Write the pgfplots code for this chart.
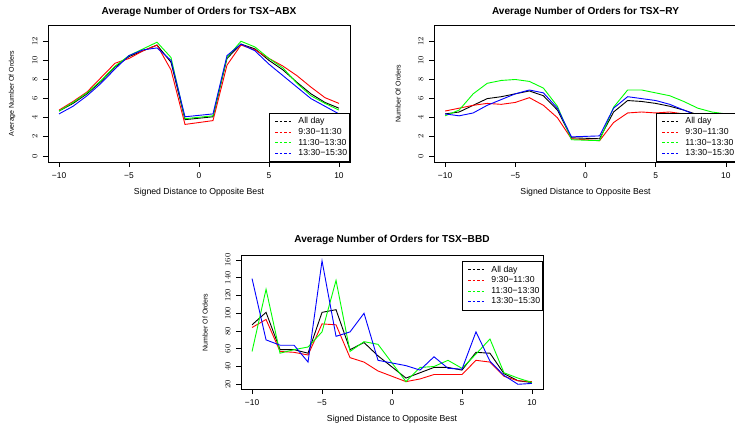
\documentclass[border=0pt]{standalone}
\usepackage{fontspec}
\setmainfont{Liberation Sans}
\usepackage{pgfplots}
\usepackage{pgfplotstable}
\pgfplotsset{compat=1.18}

% columns: all day, 9:30-11:30, 11:30-13:30, 13:30-15:30
\pgfplotstableread{
x all am mid pm
-10 4.7 4.8 4.7 4.4
-9 5.5 5.7 5.6 5.2
-8 6.5 6.7 6.6 6.3
-7 7.8 8.2 7.9 7.6
-6 9.3 9.7 9.4 9.1
-5 10.4 10.2 10.5 10.5
-4 11.0 11.0 11.2 11.1
-3 11.6 11.6 11.9 11.3
-2 9.8 9.0 10.3 10.0
-1 3.8 3.3 3.9 4.1
1 4.1 3.7 4.2 4.4
2 10.2 9.5 10.3 10.5
3 11.7 11.6 12.0 11.7
4 11.2 11.1 11.4 11.0
5 10.0 10.2 10.2 9.6
6 9.0 9.4 9.2 8.4
7 7.7 8.4 7.6 7.2
8 6.5 7.2 6.3 6.0
9 5.6 6.1 5.5 5.2
10 5.0 5.5 4.8 4.4
}\abx

\pgfplotstableread{
x all am mid pm
-10 4.4 4.7 4.2 4.4
-9 4.6 5.0 4.8 4.2
-8 5.3 5.3 6.5 4.5
-7 6.0 5.5 7.6 5.3
-6 6.2 5.4 7.9 5.9
-5 6.5 5.6 8.0 6.5
-4 6.8 6.1 7.8 6.9
-3 6.3 5.3 7.1 6.6
-2 4.8 4.0 5.2 5.0
-1 1.9 1.8 1.7 2.0
1 1.8 1.6 1.6 2.1
2 4.6 3.5 5.1 5.0
3 5.8 4.5 6.9 6.2
4 5.7 4.6 6.9 6.0
5 5.5 4.5 6.6 5.8
6 5.2 4.6 6.3 5.4
7 4.8 4.4 5.7 4.8
8 4.3 4.1 5.0 4.2
9 4.0 3.9 4.6 3.7
10 3.8 3.9 4.4 3.5
}\ry

\pgfplotstableread{
x all am mid pm
-10 87 84 57 139
-9 101 93 127 70
-8 59 57 55 64
-7 59 56 59 64
-6 55 53 62 45
-5 101 88 79 159
-4 104 87 137 74
-3 59 50 57 79
-2 67 45 68 100
-1 52 35 65 47
1 27 23 23 41
2 33 26 39 36
3 39 31 40 51
4 39 31 47 38
5 36 31 38 37
6 56 47 54 79
7 55 45 71 46
8 32 29 33 30
9 24 24 27 20
10 22 23 22 21
}\bbd

\pgfplotsset{
  every axis title shift=0pt,
  rplot/.style={
    scale only axis,
    axis line style={line width=0.8pt},
    tick align=outside, tick pos=left,
    major tick length=5pt,
    major tick style={line width=0.8pt, black},
    xmin=-10.79, xmax=10.79,
    xtick={-10,-5,0,5,10}, xticklabels={−10,−5,0,5,10},
    tick label style={font=\fontsize{8.4}{10}\selectfont},
    xticklabel shift=2pt, yticklabel shift=2pt,
    yticklabel style={rotate=90, anchor=south},
    title style={anchor=center, font=\bfseries\fontsize{10.1}{12}\selectfont},
    xlabel style={anchor=center, font=\fontsize{8.7}{10}\selectfont},
    ylabel style={anchor=center, font=\fontsize{7}{8.4}\selectfont},
    xlabel={Signed Distance to Opposite Best},
    legend cell align=left,
    legend image code/.code={\draw[#1] (0pt,0pt) (5pt,0pt) -- (22pt,0pt) (26pt,0pt);},
    legend style={draw=black, line width=0.8pt,
      font=\fontsize{8.7}{9}\selectfont,
      inner xsep=0.5pt, inner ysep=2.5pt, row sep=-1pt},
  },
  ln/.style={line width=0.9pt, forget plot},
  lg/.style={line width=0.8pt, dash pattern=on 2.5pt off 2pt},
}

\begin{document}
\begin{tikzpicture}
\useasboundingbox (0pt,0pt) rectangle (735pt,423pt);

\begin{axis}[rplot, at={(48pt,261pt)}, anchor=south west,
  width=302pt, height=137pt,
  ymin=-0.63, ymax=13.7, ytick={0,2,...,12},
  title={Average Number of Orders for TSX−ABX},
  title style={at={(axis description cs:0.5,1.0949)}},
  xlabel style={at={(axis description cs:0.5,-0.219)}},
  ylabel={Average Number Of Orders},
  ylabel style={at={(axis description cs:-0.1192,0.5)}},
  legend style={at={(1,0)}, anchor=south east}]
\addplot[ln, black] table[x=x, y=all] {\abx};
\addplot[ln, red] table[x=x, y=am] {\abx};
\addplot[ln, green] table[x=x, y=mid] {\abx};
\addplot[ln, blue] table[x=x, y=pm] {\abx};
\addlegendimage{lg, black}\addlegendentry{All day}
\addlegendimage{lg, red}\addlegendentry{9:30−11:30}
\addlegendimage{lg, green}\addlegendentry{11:30−13:30}
\addlegendimage{lg, blue}\addlegendentry{13:30−15:30}
\end{axis}

\begin{axis}[rplot, at={(434pt,261pt)}, anchor=south west,
  width=303pt, height=137pt,
  ymin=-0.63, ymax=13.7, ytick={0,2,...,12},
  title={Average Number of Orders for TSX−RY},
  title style={at={(axis description cs:0.5,1.0949)}},
  xlabel style={at={(axis description cs:0.5,-0.219)}},
  ylabel={Number Of Orders},
  ylabel style={at={(axis description cs:-0.1188,0.5)}},
  legend style={at={(1,0)}, anchor=south east}]
\addplot[ln, black] table[x=x, y=all] {\ry};
\addplot[ln, red] table[x=x, y=am] {\ry};
\addplot[ln, green] table[x=x, y=mid] {\ry};
\addplot[ln, blue] table[x=x, y=pm] {\ry};
\addlegendimage{lg, black}\addlegendentry{All day}
\addlegendimage{lg, red}\addlegendentry{9:30−11:30}
\addlegendimage{lg, green}\addlegendentry{11:30−13:30}
\addlegendimage{lg, blue}\addlegendentry{13:30−15:30}
\end{axis}

\begin{axis}[rplot, at={(241pt,34pt)}, anchor=south west,
  width=302pt, height=133.3pt,
  ymin=14.7, ymax=164.8, ytick={20,40,...,160},
  title={Average Number of Orders for TSX−BBD},
  title style={at={(axis description cs:0.5,1.1155)}},
  xlabel style={at={(axis description cs:0.5,-0.225)}},
  ylabel={Number Of Orders},
  ylabel style={at={(axis description cs:-0.1192,0.5)}},
  legend style={at={(1,1)}, anchor=north east, yshift=-5.3pt}]
\addplot[ln, black] table[x=x, y=all] {\bbd};
\addplot[ln, red] table[x=x, y=am] {\bbd};
\addplot[ln, green] table[x=x, y=mid] {\bbd};
\addplot[ln, blue] table[x=x, y=pm] {\bbd};
\addlegendimage{lg, black}\addlegendentry{All day}
\addlegendimage{lg, red}\addlegendentry{9:30−11:30}
\addlegendimage{lg, green}\addlegendentry{11:30−13:30}
\addlegendimage{lg, blue}\addlegendentry{13:30−15:30}
\end{axis}
\end{tikzpicture}
\end{document}
